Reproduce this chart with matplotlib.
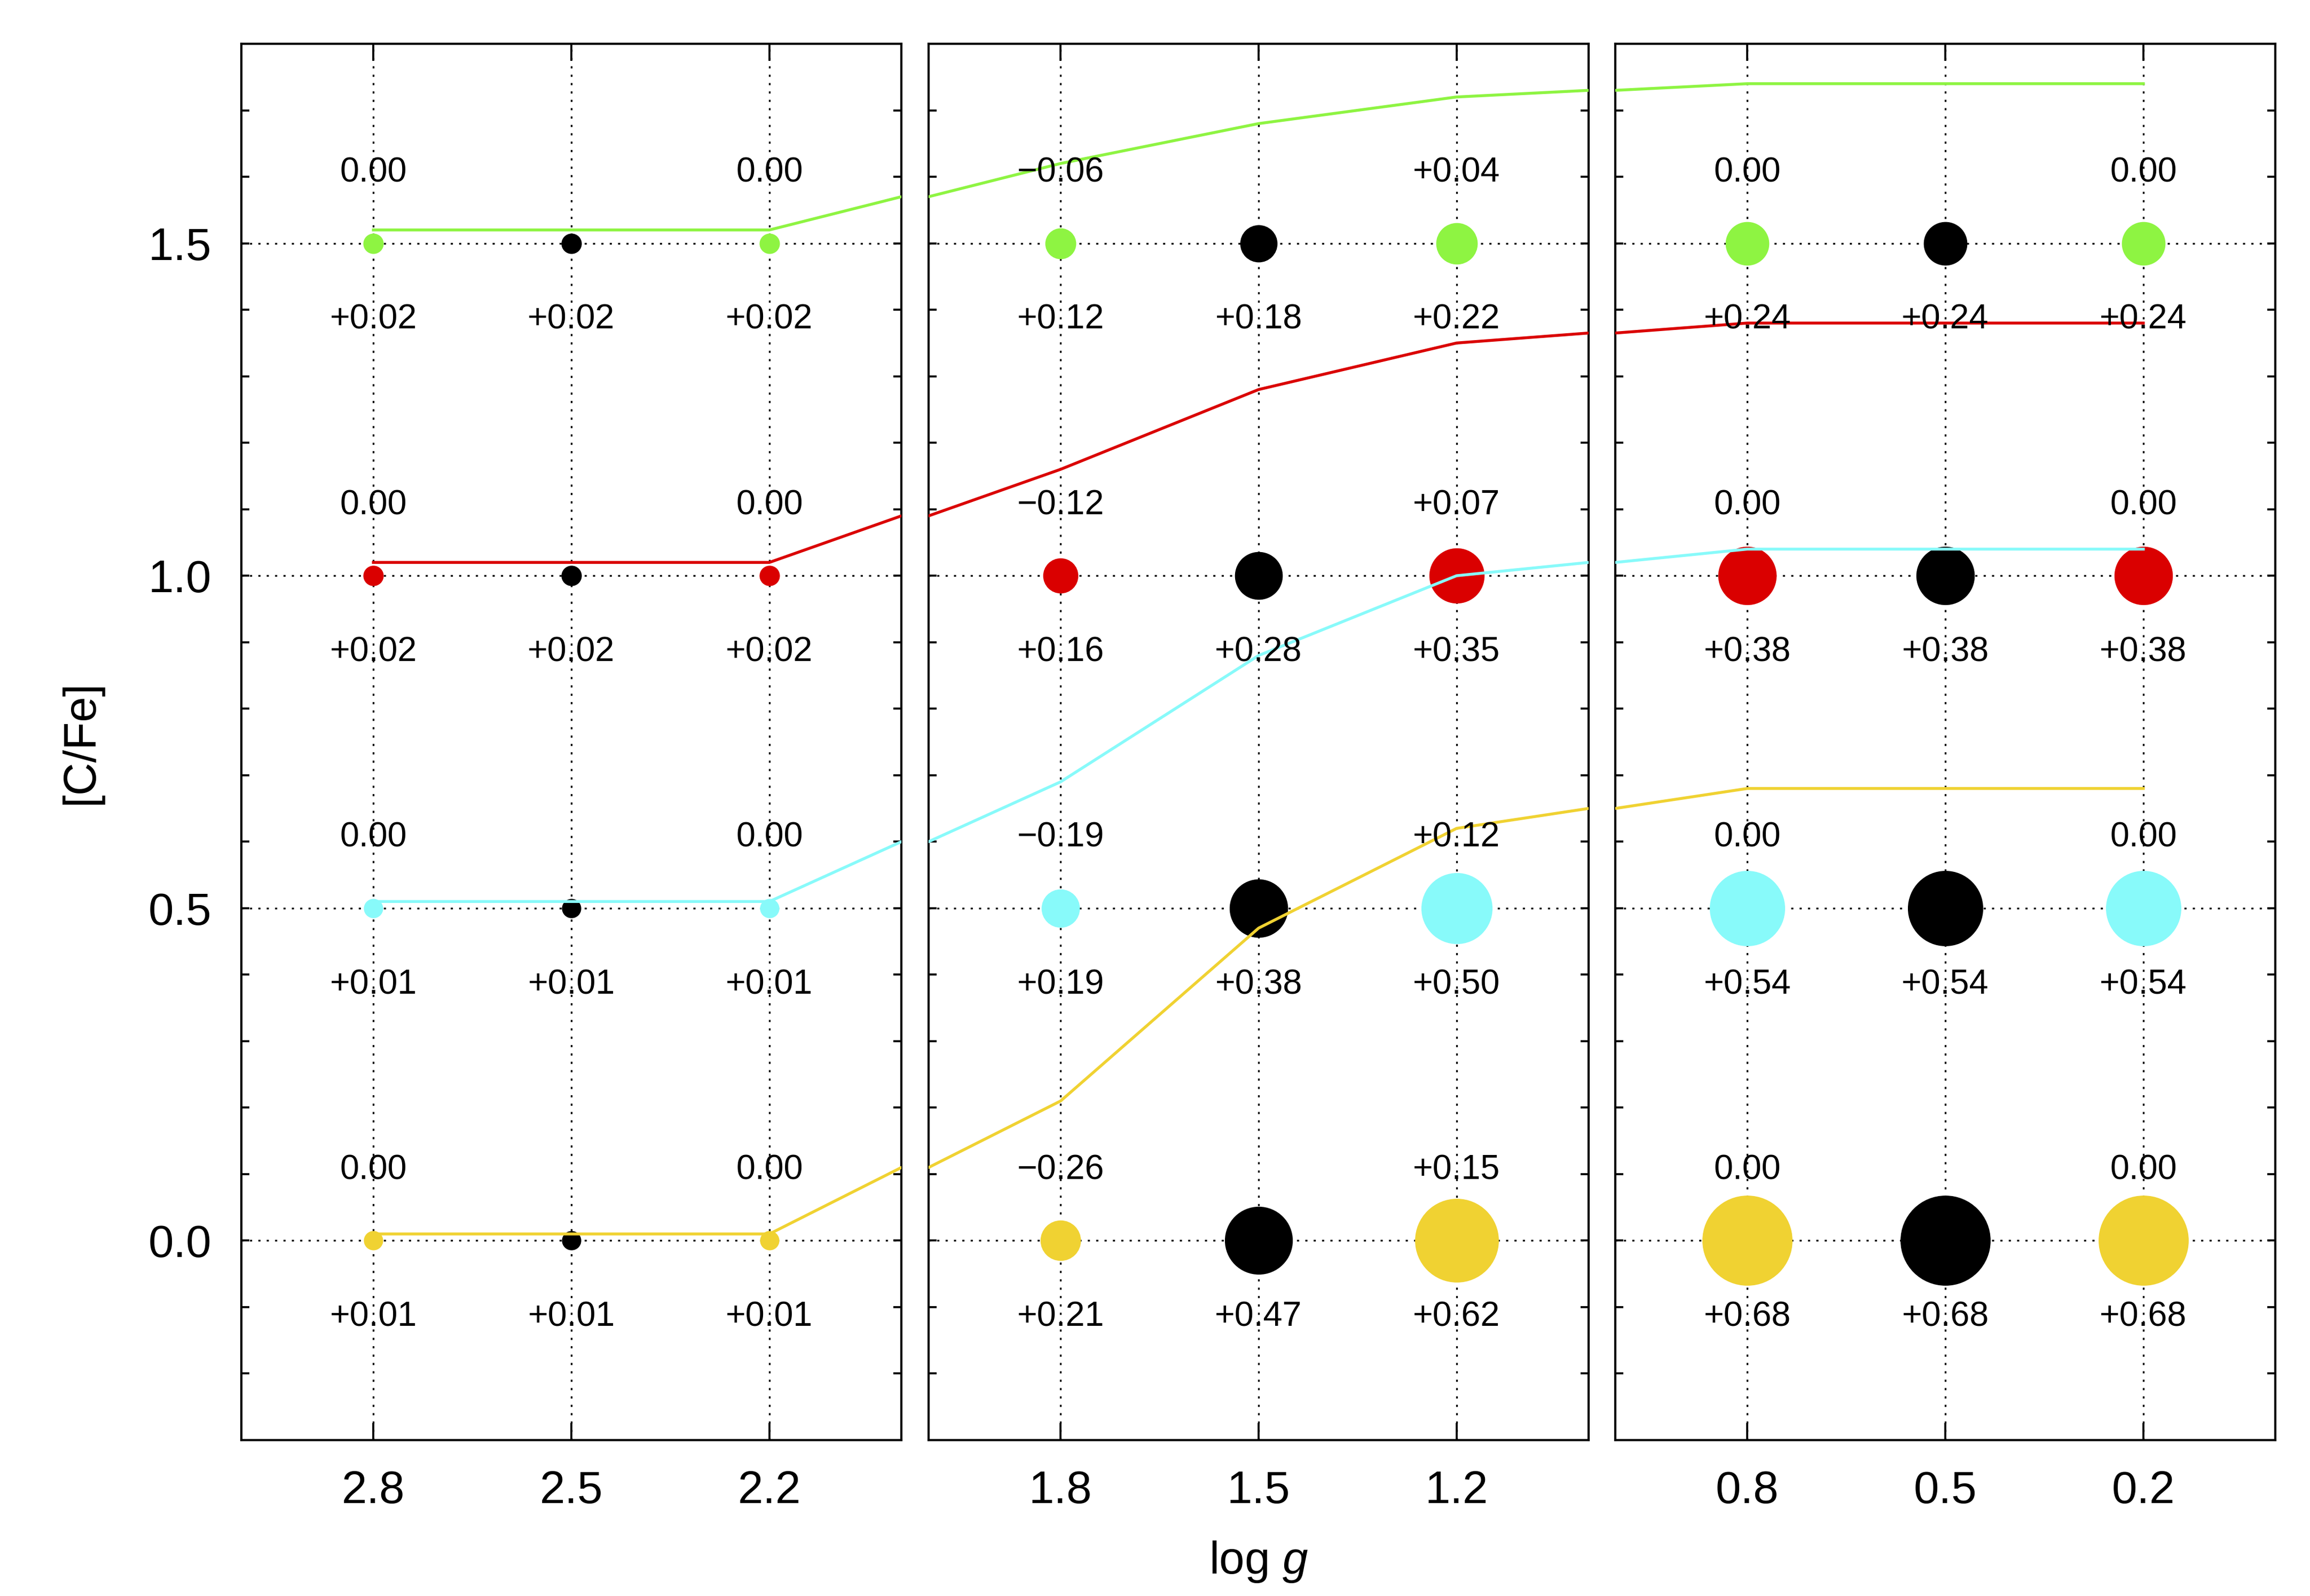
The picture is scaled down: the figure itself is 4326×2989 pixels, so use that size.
import numpy as np
import matplotlib
matplotlib.use("Agg")
import matplotlib.pyplot as plt

plt.rcParams['font.family'] = ['Liberation Sans', 'DejaVu Sans']
plt.rcParams['mathtext.fontset'] = 'custom'
plt.rcParams['mathtext.rm'] = 'Liberation Sans'
plt.rcParams['mathtext.it'] = 'Liberation Sans:italic'

# log g grid and the three panels
logg = [2.8, 2.5, 2.2, 1.8, 1.5, 1.2, 0.8, 0.5, 0.2]
panel_xlims = [(3.0, 2.0), (2.0, 1.0), (1.0, 0.0)]
panel_ticks = [[2.8, 2.5, 2.2], [1.8, 1.5, 1.2], [0.8, 0.5, 0.2]]

# one row per [C/Fe] start value
row_offsets = [0.0, 0.5, 1.0, 1.5]
row_colors = ['#f0d232', '#88fafa', '#da0000', '#8ef442']

# change of [C/Fe] (lower labels, line and marker size)
delta_yellow = [0.01, 0.01, 0.01, 0.21, 0.47, 0.62, 0.68, 0.68, 0.68]
delta_cyan = [0.01, 0.01, 0.01, 0.19, 0.38, 0.50, 0.54, 0.54, 0.54]
delta_red = [0.02, 0.02, 0.02, 0.16, 0.28, 0.35, 0.38, 0.38, 0.38]
delta_green = [0.02, 0.02, 0.02, 0.12, 0.18, 0.22, 0.24, 0.24, 0.24]
deltas = [delta_yellow, delta_cyan, delta_red, delta_green]

# upper labels (none above the black middle points)
upper_yellow = [0.00, None, 0.00, -0.26, None, 0.15, 0.00, None, 0.00]
upper_cyan = [0.00, None, 0.00, -0.19, None, 0.12, 0.00, None, 0.00]
upper_red = [0.00, None, 0.00, -0.12, None, 0.07, 0.00, None, 0.00]
upper_green = [0.00, None, 0.00, -0.06, None, 0.04, 0.00, None, 0.00]
uppers = [upper_yellow, upper_cyan, upper_red, upper_green]

middle_cols = [1, 4, 7]


def fmt_upper(v):
    if abs(v) < 1e-9:
        return '0.00'
    if v < 0:
        return '\u2212%.2f' % abs(v)
    return '+%.2f' % v


fig = plt.figure(figsize=(4326 / 300, 2989 / 300), dpi=300)
lefts = [0.10449, 0.40199, 0.69926]
axes = [fig.add_axes([l, 0.09769, 0.28572, 0.87487]) for l in lefts]

for ax, xlim, ticks in zip(axes, panel_xlims, panel_ticks):
    ax.set_xlim(*xlim)
    ax.set_ylim(-0.3, 1.8)
    ax.set_xticks(ticks)
    ax.set_xticklabels(['%.1f' % t for t in ticks])
    ax.set_yticks(np.arange(-0.3, 1.81, 0.1))
    ax.tick_params(axis='x', direction='in', length=7.7, width=0.9, top=True,
                   labelsize=20.5, pad=13.5)
    ax.tick_params(axis='y', direction='in', length=3.7, width=0.9, right=True,
                   labelsize=20.5, pad=13.5)
    for sp in ax.spines.values():
        sp.set_linewidth(1.0)
    # dotted grid
    for t in ticks:
        ax.axvline(t, color='black', lw=0.8, ls=(0, (1.2, 3.5)), zorder=1)
    for y0 in row_offsets:
        ax.axhline(y0, color='black', lw=0.8, ls=(0, (1.2, 3.5)), zorder=1)

    lo, hi = min(xlim), max(xlim)
    for y0, col, dv, up in zip(row_offsets, row_colors, deltas, uppers):
        # markers
        for i, (x, d) in enumerate(zip(logg, dv)):
            c = 'black' if i in middle_cols else col
            ax.plot([x], [y0], 'o', ms=8.2 + 47.5 * d, color=c, mec='none', zorder=2)
        # evolved [C/Fe] line
        ax.plot(logg, [y0 + d for d in dv], color=col, lw=1.3, zorder=3)
        # labels
        for x, d, u in zip(logg, dv, up):
            if not (lo < x < hi):
                continue
            ax.text(x, y0 - 0.115, '+%.2f' % d, ha='center', va='center',
                    fontsize=15.5, zorder=4)
            if u is not None:
                ax.text(x, y0 + 0.106, fmt_upper(u), ha='center', va='center',
                        fontsize=15.5, zorder=4)

for ax in axes[1:]:
    ax.set_yticklabels([])
labels = ['%.1f' % v if abs(round(v * 10) % 5) == 0 else '' for v in np.arange(-0.3, 1.81, 0.1)]
labels = ['0.0' if l == '-0.0' else l for l in labels]
axes[0].set_yticklabels(labels)

fig.text(152 / 4326, 0.535, '[C/Fe]', rotation=90, ha='center', va='center', fontsize=20.5)
fig.text(0.5448, 0.0214, r'log $g$', ha='center', va='center', fontsize=20.5)

fig.savefig('out.png', dpi=300)
